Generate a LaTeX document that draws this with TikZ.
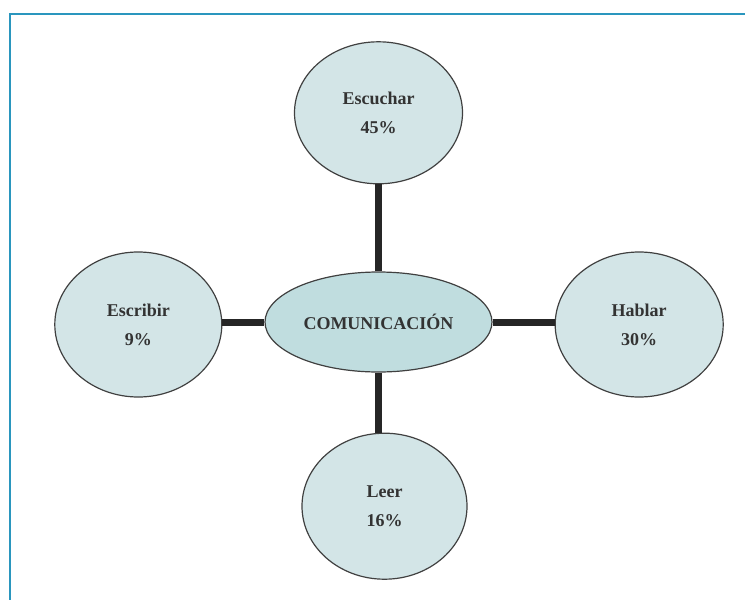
\documentclass[tikz,border=0pt]{standalone}
\usepackage{fontspec}
\setmainfont{Liberation Serif}
\usetikzlibrary{
positioning,
shapes.geometric,
}
\definecolor{frameblue}{RGB}{42,150,190}
\definecolor{leaf}{RGB}{211,229,231}
\definecolor{hubfill}{RGB}{192,221,223}
\tikzset{
every node/.style={align=center, font=\bfseries\fontsize{9}{14.5}\selectfont, text=black!80},
skill/.style={ellipse, draw=black!75, line width=0.6pt, fill=leaf, inner sep=0pt},
hub/.style={skill, fill=hubfill},
link/.style={line width=3.5pt, draw=black!85},
}

\begin{document}
\begin{tikzpicture}[x=0.5pt, y=-0.5pt]
    \useasboundingbox (0,0) rectangle (745,600);
    \draw [frameblue, line width=1pt] (9.5,600) -- (9.5,14) -- (745,14);

    \node [hub, minimum width=113.5pt, minimum height=50pt] (com) at (378.5,322) {COMUNICACIÓN};
    \node [skill, minimum width=84pt, minimum height=71pt, above=43.5pt of com] (escu) {Escuchar\\45\%};
    \node [skill, minimum width=82.5pt, minimum height=73pt, below=30pt of com, xshift=3pt] (leer) {Leer\\16\%};
    \node [skill, minimum width=83.5pt, minimum height=72.5pt, left=21pt of com, yshift=-1.25pt] (escr) {Escribir\\9\%};
    \node [skill, minimum width=84pt, minimum height=72.5pt, right=31pt of com, yshift=-1.25pt] (habl) {Hablar\\30\%};

    \draw [link] (com.north) -- (com.north |- escu.south);
    \draw [link] (com.south) -- (com.south |- leer.north);
    \draw [link] (com.west) -- (com.west -| escr.east);
    \draw [link] (com.east) -- (com.east -| habl.west);
\end{tikzpicture}
\end{document}
